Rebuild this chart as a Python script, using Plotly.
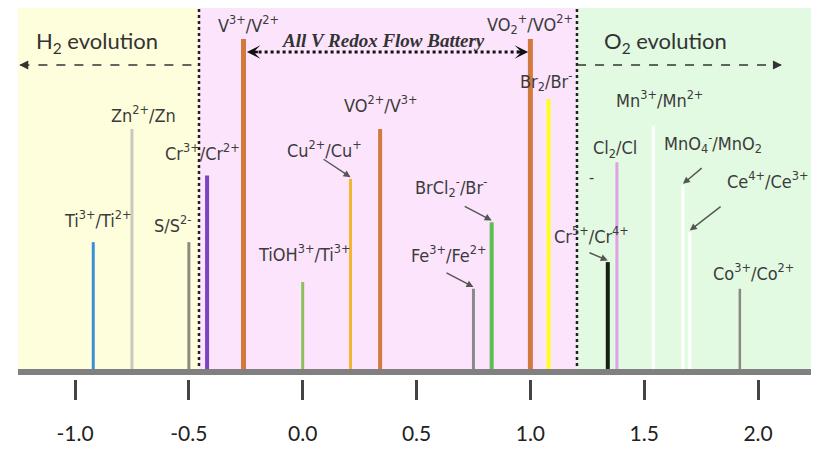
import plotly.graph_objects as go

# ---------------- data ----------------
couples = ["Ti3+/Ti2+", "Zn2+/Zn", "S/S2-", "Cr3+/Cr2+", "V3+/V2+", "TiOH3+/Ti3+",
           "Cu2+/Cu+", "VO2+/V3+", "Fe3+/Fe2+", "BrCl2-/Br-", "VO2+/VO2+", "Br2/Br-",
           "Cr5+/Cr4+", "Cl2/Cl-", "Mn3+/Mn2+", "MnO4-/MnO2", "Ce4+/Ce3+", "Co3+/Co2+"]
potentials = [-0.92, -0.75, -0.50, -0.42, -0.26, 0.00,
              0.21, 0.34, 0.75, 0.83, 1.00, 1.08,
              1.34, 1.38, 1.54, 1.67, 1.70, 1.92]
heights = [0.39, 0.73, 0.39, 0.59, 1.00, 0.27,
           0.58, 0.73, 0.25, 0.45, 1.00, 0.82,
           0.33, 0.63, 0.74, 0.56, 0.42, 0.25]
line_colors = ["#3a8fd6", "#c9c9c0", "#8a8a7e", "#7c44c0", "#d27a3e", "#8cc05a",
               "#f3b630", "#d27a3e", "#8a8a8a", "#5cbf50", "#d27a3e", "#ffff1e",
               "#152015", "#e0a2e6", "#ffffff", "#ffffff", "#ffffff", "#8a8a82"]
line_widths = [3, 3, 3, 4, 5, 3, 3, 4, 3, 4, 5, 4, 4, 3, 3, 3, 3, 2.5]

labels = ["Ti<sup>3+</sup>/Ti<sup>2+</sup>", "Zn<sup>2+</sup>/Zn", "S/S<sup>2-</sup>",
          "Cr<sup>3+</sup>/Cr<sup>2+</sup>", "V<sup>3+</sup>/V<sup>2+</sup>",
          "TiOH<sup>3+</sup>/Ti<sup>3+</sup>", "Cu<sup>2+</sup>/Cu<sup>+</sup>",
          "VO<sup>2+</sup>/V<sup>3+</sup>", "Fe<sup>3+</sup>/Fe<sup>2+</sup>",
          "BrCl<sub>2</sub><sup>-</sup>/Br<sup>-</sup>",
          "VO<sub>2</sub><sup>+</sup>/VO<sup>2+</sup>", "Br<sub>2</sub>/Br<sup>-</sup>",
          "Cr<sup>5+</sup>/Cr<sup>4+</sup>", "Cl<sub>2</sub>/Cl",
          "Mn<sup>3+</sup>/Mn<sup>2+</sup>", "MnO<sub>4</sub><sup>-</sup>/MnO<sub>2</sub>",
          "Ce<sup>4+</sup>/Ce<sup>3+</sup>", "Co<sup>3+</sup>/Co<sup>2+</sup>"]
label_x = [-0.90, -0.70, -0.57, -0.44, -0.24, 0.005, 0.095, 0.34, 0.64, 0.65, 1.0, 1.07,
           1.27, 1.37, 1.565, 1.80, 2.04, 1.98]
label_y = [0.46, 0.775, 0.445, 0.66, 1.045, 0.357, 0.67, 0.805, 0.355, 0.555, 1.045, 0.875,
           0.41, 0.67, 0.82, 0.687, 0.576, 0.30]
# arrows: (label index, tail x, tail y)
arrow_idx = [6, 8, 9, 12, 15, 16]
arrow_tail_x = [0.085, 0.625, 0.705, 1.253, 1.759, 1.842]
arrow_tail_y = [0.642, 0.30, 0.50, 0.36, 0.616, 0.50]

tick_vals = [-1.0, -0.5, 0.0, 0.5, 1.0, 1.5, 2.0]
tick_text = ["-1.0", "-0.5", "0.0", "0.5", "1.0", "1.5", "2.0"]

regions_x0 = [-1.2505, -0.4555, 1.2047]
regions_x1 = [-0.4555, 1.2047, 2.2385]
region_colors = ["#fefedc", "#fce4fc", "#e2f9e2"]
region_top = 1.093

X_RANGE = [-1.2944, 2.2677]
Y_RANGE = [-0.0841, 1.0931]

LABEL_FONT = "DejaVu Sans Condensed, Liberation Sans Narrow, Roboto Condensed, sans-serif"

fig = go.Figure()

for c, p, h, col, w in zip(couples, potentials, heights, line_colors, line_widths):
    fig.add_trace(go.Scatter(x=[p, p], y=[0, h], mode="lines", name=c,
                             line=dict(color=col, width=w), hoverinfo="name",
                             showlegend=False))

shapes = []
for x0, x1, col in zip(regions_x0, regions_x1, region_colors):
    shapes.append(dict(type="rect", xref="x", yref="y", x0=x0, x1=x1, y0=0, y1=region_top,
                       fillcolor=col, line=dict(width=0), layer="below"))
# dotted separators
for xs in [regions_x1[0], regions_x1[1]]:
    shapes.append(dict(type="line", xref="x", yref="y", x0=xs, x1=xs, y0=0, y1=region_top,
                       line=dict(color="#222222", width=2.5, dash="dot"), layer="above"))
# axis line
shapes.append(dict(type="line", xref="x", yref="y", x0=-1.2505, x1=X_RANGE[1], y0=0, y1=0,
                   line=dict(color="#808080", width=6), layer="above"))
# H2 / O2 dashed arrows
shapes.append(dict(type="line", xref="x", yref="y", x0=-1.24, x1=-0.46, y0=0.922, y1=0.922,
                   line=dict(color="#333333", width=1.5, dash="dash"), layer="above"))
shapes.append(dict(type="line", xref="x", yref="y", x0=1.205, x1=2.10, y0=0.922, y1=0.922,
                   line=dict(color="#333333", width=1.5, dash="dash"), layer="above"))
# VRFB dotted double arrow
shapes.append(dict(type="line", xref="x", yref="y", x0=-0.22, x1=0.97, y0=0.961, y1=0.961,
                   line=dict(color="#111111", width=3, dash="dot"), layer="above"))

annotations = []
for i, (t, lx, ly) in enumerate(zip(labels, label_x, label_y)):
    annotations.append(dict(x=lx, y=ly, xref="x", yref="y", text=t, showarrow=False,
                            font=dict(family=LABEL_FONT, size=18, color="#3b3b3b")))
annotations.append(dict(x=1.27, y=0.585, xref="x", yref="y", text="-", showarrow=False,
                        font=dict(family=LABEL_FONT, size=16, color="#3b3b3b")))
for i, tx, ty in zip(arrow_idx, arrow_tail_x, arrow_tail_y):
    annotations.append(dict(x=potentials[i], y=heights[i] + 0.005, xref="x", yref="y",
                            ax=tx, ay=ty, axref="x", ayref="y", text="",
                            showarrow=True, arrowhead=2, arrowsize=1, arrowwidth=1.4,
                            arrowcolor="#555555"))
# arrow heads for dashed arrows
annotations.append(dict(x=-1.245, y=0.922, ax=-1.20, ay=0.922, axref="x", ayref="y",
                        xref="x", yref="y", text="", showarrow=True, arrowhead=2,
                        arrowsize=1.2, arrowwidth=1.5, arrowcolor="#333333"))
annotations.append(dict(x=2.105, y=0.922, ax=2.06, ay=0.922, axref="x", ayref="y",
                        xref="x", yref="y", text="", showarrow=True, arrowhead=2,
                        arrowsize=1.2, arrowwidth=1.5, arrowcolor="#333333"))
annotations.append(dict(x=-0.245, y=0.961, ax=-0.19, ay=0.961, axref="x", ayref="y",
                        xref="x", yref="y", text="", showarrow=True, arrowhead=3,
                        arrowsize=0.9, arrowwidth=2.5, arrowcolor="#111111"))
annotations.append(dict(x=0.99, y=0.961, ax=0.935, ay=0.961, axref="x", ayref="y",
                        xref="x", yref="y", text="", showarrow=True, arrowhead=3,
                        arrowsize=0.9, arrowwidth=2.5, arrowcolor="#111111"))
# region titles
annotations.append(dict(x=-0.903, y=0.991, xref="x", yref="y", text="H<sub>2</sub> evolution",
                        showarrow=False, font=dict(family="Lato, Open Sans, sans-serif",
                                                   size=22, color="#333333")))
annotations.append(dict(x=1.595, y=0.991, xref="x", yref="y", text="O<sub>2</sub> evolution",
                        showarrow=False, font=dict(family="Lato, Open Sans, sans-serif",
                                                   size=22, color="#333333")))
annotations.append(dict(x=0.353, y=0.997, xref="x", yref="y",
                        text="<b><i>All V Redox Flow Battery</i></b>", showarrow=False,
                        font=dict(family="Liberation Serif, serif", size=19, color="#333333")))

fig.update_layout(
    width=811, height=442,
    margin=dict(l=0, r=0, t=0, b=50),
    paper_bgcolor="white", plot_bgcolor="white",
    shapes=shapes, annotations=annotations,
    xaxis=dict(range=X_RANGE, showgrid=False, zeroline=False, showline=False,
               tickvals=tick_vals, ticktext=tick_text, ticks="inside", ticklen=20,
               tickwidth=3, tickcolor="#444444", ticklabelstandoff=19,
               tickfont=dict(family="Lato, Open Sans, sans-serif", size=21, color="#222222")),
    yaxis=dict(range=Y_RANGE, showgrid=False, zeroline=False, showline=False,
               showticklabels=False, ticks=""),
)

fig.write_html("out.html")
